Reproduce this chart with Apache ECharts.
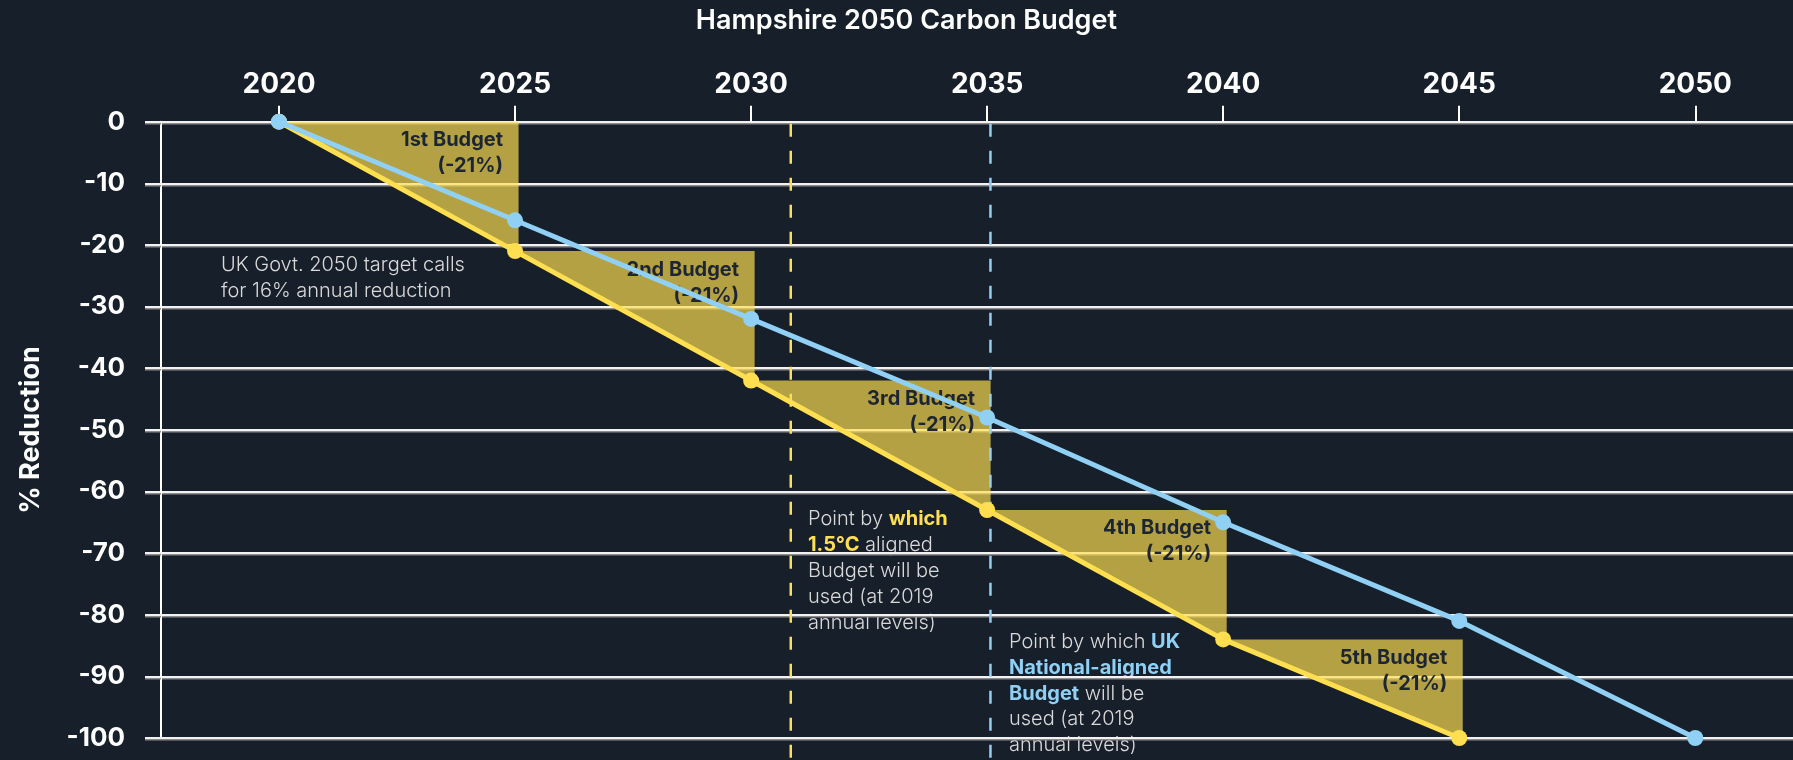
<!DOCTYPE html>
<html>
<head>
<meta charset="utf-8">
<script src="https://cdn.jsdelivr.net/npm/echarts@6/dist/echarts.min.js"></script>
<style>
  html, body { margin: 0; padding: 0; background: #161f2a; }
  #chart { width: 1793px; height: 760px; }
</style>
</head>
<body>
<div id="chart"></div>
<script>
// ---- data ----
const years = [2020, 2025, 2030, 2035, 2040, 2045, 2050];
const tickYears = [2020, 2025, 2030, 2035, 2040, 2045, 2050];
const ukNational = [0, -16, -32, -48, -65, -81, -100];
const hampshire = [0, -21, -42, -63, -84, -100];
const budgetNames = ['1st Budget', '2nd Budget', '3rd Budget', '4th Budget', '5th Budget'];
const budgetCuts = ['(-21%)', '(-21%)', '(-21%)', '(-21%)', '(-21%)'];
const markerYears = [2030.84, 2035.07];
const yTicks = { min: -100, max: 0, step: 10 };

const FONT = 'Inter';
const BLUE = '#8fd0f4';
const YELLOW = '#ffde4f';
const FILL = 'rgba(255,222,79,0.68)';
const BG = '#161f2a';

const budgetData = hampshire.slice(0, -1).map((v, i) => [years[i], v, years[i + 1], hampshire[i + 1], budgetNames[i], budgetCuts[i]]);
const markerData = markerYears.map((y, i) => [y, i]);

const chart = echarts.init(document.getElementById('chart'), null, { renderer: 'canvas' });

const gridLineStyle = { color: '#f2f2f2', width: 2, shadowColor: '#8c8c8c', shadowOffsetY: 1.5, shadowBlur: 0 };

const option = {
  backgroundColor: BG,
  animation: false,
  grid: { left: 161, right: 0, top: 121.7, bottom: 22, containLabel: false },
  xAxis: {
    type: 'value',
    position: 'top',
    min: 2017.5,
    max: 2052.07,
    z: 1,
    axisLine: { show: false },
    splitLine: { show: false },
    axisTick: { show: true, length: 16, customValues: tickYears, lineStyle: { color: '#ffffff', width: 2 } },
    axisLabel: {
      customValues: tickYears, color: '#ffffff', fontFamily: FONT, fontWeight: 700,
      fontSize: 28, lineHeight: 28, margin: 23,
      formatter: v => String(v)
    }
  },
  yAxis: {
    type: 'value',
    min: yTicks.min,
    max: yTicks.max,
    interval: yTicks.step,
    z: 1,
    axisLine: { show: true, lineStyle: { color: '#ffffff', width: 2 } },
    axisTick: { show: true, length: 16, lineStyle: gridLineStyle },
    splitLine: { show: true, lineStyle: gridLineStyle },
    axisLabel: { color: '#ffffff', fontFamily: FONT, fontWeight: 700, fontSize: 26, margin: 36 }
  },
  graphic: [
    { type: 'text', x: 906.4, y: 21, z: 0, style: { text: 'Hampshire 2050 Carbon Budget', fill: '#ffffff', font: `600 27px ${FONT}`, align: 'center', verticalAlign: 'middle' } },
    { type: 'text', x: 31, y: 430, rotation: Math.PI / 2, z: 0, style: { text: '% Reduction', fill: '#ffffff', font: `700 27px ${FONT}`, align: 'center', verticalAlign: 'middle' } },
    { type: 'text', x: 221, y: 252, z: 0, style: {
      text: 'UK Govt. 2050 target calls\nfor 16% annual reduction',
      fill: '#d9d9d9', fontFamily: FONT, fontWeight: 300, fontSize: 20, lineHeight: 25.8, align: 'left', verticalAlign: 'top' } },
    { type: 'text', x: 808, y: 506.5, z: 0, style: {
      text: 'Point by {y|which}\n{y|1.5°C} aligned\nBudget will be\nused (at 2019\nannual levels)',
      fill: '#d9d9d9', fontFamily: FONT, fontWeight: 300, fontSize: 20, lineHeight: 25.8, align: 'left', verticalAlign: 'top',
      rich: { y: { fill: YELLOW, fontFamily: FONT, fontWeight: 700, fontSize: 20, lineHeight: 25.8 } } } },
    { type: 'text', x: 1009, y: 629, z: 0, style: {
      text: 'Point by which {b|UK}\n{b|National-aligned}\n{b|Budget} will be\nused (at 2019\nannual levels)',
      fill: '#d9d9d9', fontFamily: FONT, fontWeight: 300, fontSize: 20, lineHeight: 25.8, align: 'left', verticalAlign: 'top',
      rich: { b: { fill: BLUE, fontFamily: FONT, fontWeight: 700, fontSize: 20, lineHeight: 25.8 } } } }
  ],
  series: [
    {
      type: 'custom',
      name: 'Budgets',
      z: 2,
      clip: false,
      encode: { x: [0, 2], y: [1, 3] },
      data: budgetData,
      renderItem: function (params, api) {
        const p0 = api.coord([api.value(0), api.value(1)]);
        const p1 = api.coord([api.value(2), api.value(1)]);
        const p2 = api.coord([api.value(2), api.value(3)]);
        const ext = 3.5;
        const item = budgetData[params.dataIndex];
        return {
          type: 'group',
          children: [
            { type: 'polygon', shape: { points: [p0, [p1[0] + ext, p1[1]], [p2[0] + ext, p2[1]], p2] }, style: { fill: FILL } },
            { type: 'text', x: p1[0] - 12, y: p1[1] + 18.5, style: { text: item[4], fill: '#1c2531', font: `700 20px ${FONT}`, align: 'right', verticalAlign: 'middle' } },
            { type: 'text', x: p1[0] - 12, y: p1[1] + 44.5, style: { text: item[5], fill: '#1c2531', font: `700 20px ${FONT}`, align: 'right', verticalAlign: 'middle' } }
          ]
        };
      }
    },
    {
      type: 'custom',
      name: 'Markers',
      z: 3,
      clip: false,
      encode: { x: 0 },
      data: markerData,
      renderItem: function (params, api) {
        const top = api.coord([api.value(0), 0]);
        const color = params.dataIndex === 0 ? YELLOW : BLUE;
        return {
          type: 'line',
          shape: { x1: top[0], y1: top[1] + 2, x2: top[0], y2: api.getHeight() },
          style: { stroke: color, lineWidth: 2.5, lineDash: [13, 14] }
        };
      }
    },
    {
      type: 'line',
      name: 'Hampshire',
      z: 4,
      data: hampshire.map((v, i) => [years[i], v]),
      symbol: 'circle',
      symbolSize: 16,
      lineStyle: { color: YELLOW, width: 5 },
      itemStyle: { color: YELLOW },
      emphasis: { disabled: true }
    },
    {
      type: 'line',
      name: 'UK National',
      z: 5,
      data: ukNational.map((v, i) => [years[i], v]),
      symbol: 'circle',
      symbolSize: 16,
      lineStyle: { color: BLUE, width: 5 },
      itemStyle: { color: BLUE },
      emphasis: { disabled: true }
    }
  ]
};
chart.setOption(option);
</script>
</body>
</html>
